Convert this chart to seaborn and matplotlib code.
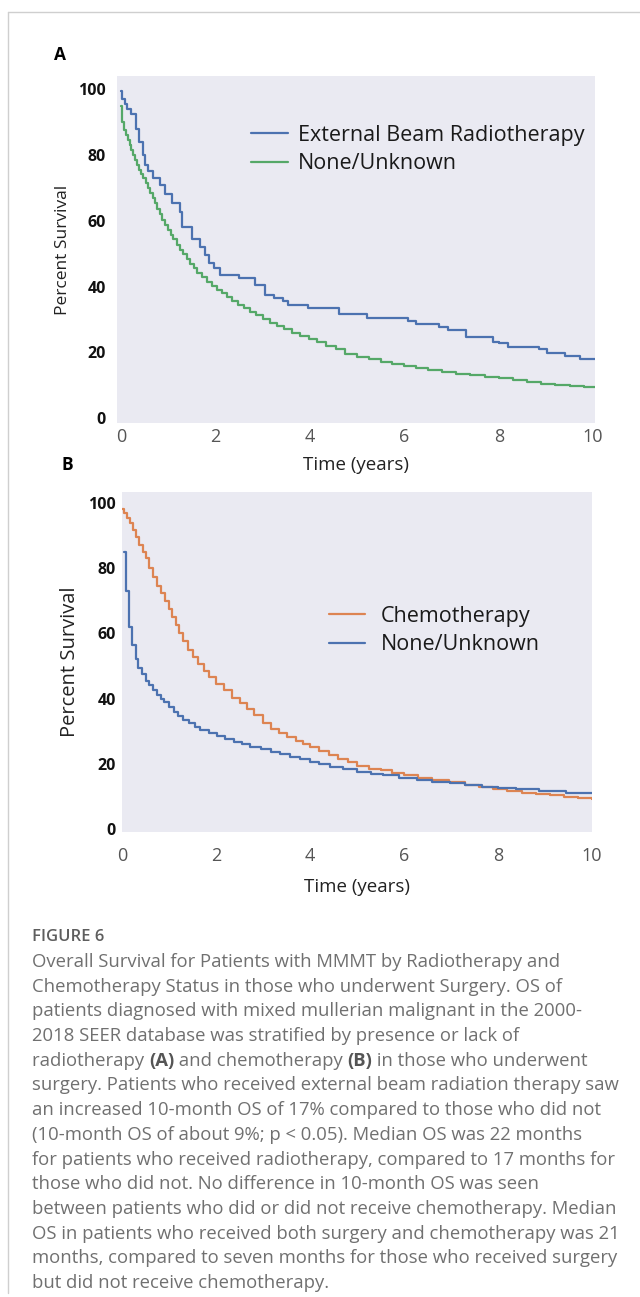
import matplotlib
matplotlib.use("Agg")
import matplotlib.pyplot as plt
from matplotlib.lines import Line2D
import pandas as pd
import seaborn as sns

# ---------------- data ----------------
a_groups = ["External Beam Radiotherapy", "None/Unknown"]
a_ebrt_time = [0.00, 0.02, 0.08, 0.13, 0.22, 0.32, 0.38, 0.46, 0.51, 0.57, 0.68, 0.83, 0.93,
               1.07, 1.25, 1.29, 1.51, 1.67, 1.77, 1.86, 1.98, 2.10, 2.50, 2.83, 3.04, 3.25,
               3.43, 3.54, 3.96, 4.62, 5.21, 6.08, 6.25, 6.74, 6.93, 7.30, 7.87, 8.00, 8.20,
               8.86, 9.03, 9.40, 9.72, 10.05]
a_ebrt_surv = [99.5, 97.0, 95.5, 94.0, 92.5, 88.0, 84.0, 80.0, 77.0, 75.0, 73.0, 71.0, 68.0,
               65.3, 62.5, 58.2, 54.5, 52.0, 49.5, 47.0, 45.5, 43.5, 42.5, 40.5, 37.5, 36.5,
               35.5, 34.5, 33.5, 31.6, 30.4, 29.6, 28.6, 27.6, 26.7, 24.7, 23.2, 22.7, 21.7,
               21.0, 19.8, 18.8, 18.0, 18.0]
a_none_time = [0.00, 0.03, 0.06, 0.10, 0.14, 0.18, 0.22, 0.26, 0.30, 0.34, 0.38, 0.42, 0.47,
               0.52, 0.57, 0.62, 0.67, 0.72, 0.77, 0.82, 0.87, 0.93, 0.99, 1.05, 1.11, 1.18,
               1.25, 1.32, 1.39, 1.46, 1.54, 1.62, 1.72, 1.82, 1.92, 2.03, 2.13, 2.24, 2.36,
               2.48, 2.60, 2.73, 2.86, 3.00, 3.15, 3.30, 3.45, 3.62, 3.80, 3.98, 4.15, 4.35,
               4.55, 4.75, 5.00, 5.25, 5.50, 5.75, 6.00, 6.25, 6.50, 6.80, 7.10, 7.40, 7.70,
               8.00, 8.30, 8.60, 8.90, 9.20, 9.50, 9.80, 10.05]
a_none_surv = [94.8, 90.0, 87.5, 86.0, 84.5, 83.0, 81.5, 80.0, 78.5, 77.0, 75.5, 74.2, 73.0,
               71.5, 70.0, 68.5, 67.0, 65.5, 63.5, 62.0, 60.3, 58.7, 57.2, 55.8, 54.3, 52.5,
               51.0, 49.8, 48.3, 46.8, 45.5, 44.0, 42.8, 41.4, 40.2, 39.0, 37.9, 36.9, 35.6,
               34.5, 33.4, 32.3, 31.2, 30.0, 29.0, 28.0, 27.0, 26.0, 25.0, 24.0, 23.0, 22.0,
               21.0, 19.4, 18.7, 18.0, 17.1, 16.4, 15.8, 15.2, 14.6, 14.0, 13.5, 13.0, 12.5,
               12.1, 11.6, 11.0, 10.5, 10.1, 9.7, 9.4, 9.4]

b_groups = ["Chemotherapy", "None/Unknown"]
b_chemo_time = [0.00, 0.05, 0.10, 0.16, 0.23, 0.30, 0.37, 0.44, 0.51, 0.58, 0.65, 0.75, 0.83,
                0.92, 1.00, 1.07, 1.15, 1.22, 1.30, 1.40, 1.50, 1.62, 1.74, 1.86, 2.00, 2.17,
                2.35, 2.50, 2.65, 2.80, 3.00, 3.17, 3.34, 3.51, 3.70, 3.85, 4.00, 4.20, 4.40,
                4.60, 4.80, 5.00, 5.25, 5.50, 5.75, 6.00, 6.30, 6.60, 6.95, 7.30, 7.60, 7.90,
                8.20, 8.50, 8.80, 9.10, 9.40, 9.70, 10.00]
b_chemo_surv = [98.0, 96.8, 95.3, 93.7, 91.6, 89.6, 87.0, 85.0, 83.0, 80.0, 77.3, 74.5, 72.3,
                70.0, 67.5, 65.0, 62.5, 60.0, 57.5, 55.0, 52.8, 50.5, 48.5, 46.5, 44.5, 42.5,
                40.2, 38.5, 36.8, 35.0, 32.5, 30.8, 29.5, 28.3, 27.0, 26.0, 25.0, 24.0, 22.8,
                21.5, 20.5, 19.4, 18.5, 18.0, 17.2, 16.5, 15.8, 15.0, 14.3, 13.6, 13.0, 12.4,
                11.8, 11.2, 10.8, 10.3, 9.9, 9.4, 9.2]
b_none_time = [0.04, 0.08, 0.14, 0.21, 0.29, 0.35, 0.42, 0.50, 0.58, 0.66, 0.74, 0.82, 0.90,
               1.00, 1.10, 1.20, 1.30, 1.42, 1.55, 1.67, 1.85, 2.03, 2.20, 2.38, 2.55, 2.73,
               2.95, 3.16, 3.37, 3.58, 3.79, 4.00, 4.20, 4.43, 4.70, 5.00, 5.30, 5.55, 5.90,
               6.27, 6.60, 6.97, 7.30, 7.67, 8.00, 8.39, 8.88, 9.45, 10.00]
b_none_surv = [85.0, 73.0, 62.0, 56.5, 52.0, 49.5, 47.5, 45.5, 44.0, 42.5, 41.2, 40.0, 38.8,
               37.5, 36.0, 34.5, 33.5, 32.4, 31.3, 30.3, 29.3, 28.4, 27.5, 26.8, 26.0, 25.2,
               24.4, 23.7, 22.9, 22.2, 21.4, 20.6, 19.8, 19.1, 18.3, 17.6, 16.9, 16.5, 15.8,
               15.0, 14.5, 14.0, 13.5, 13.0, 12.6, 12.2, 11.7, 11.1, 11.1]

x_ticks = [0, 2, 4, 6, 8, 10]
y_ticks = [0, 20, 40, 60, 80, 100]

caption_title = "FIGURE 6"
caption_lines = [
    [("Overall Survival for Patients with MMMT by Radiotherapy and", "normal")],
    [("Chemotherapy Status in those who underwent Surgery. OS of", "normal")],
    [("patients diagnosed with mixed mullerian malignant in the 2000-", "normal")],
    [("2018 SEER database was stratified by presence or lack of", "normal")],
    [("radiotherapy ", "normal"), ("(A)", "bold"), (" and chemotherapy ", "normal"),
     ("(B)", "bold"), (" in those who underwent", "normal")],
    [("surgery. Patients who received external beam radiation therapy saw", "normal")],
    [("an increased 10-month OS of 17% compared to those who did not", "normal")],
    [("(10-month OS of about 9%; p < 0.05). Median OS was 22 months", "normal")],
    [("for patients who received radiotherapy, compared to 17 months for", "normal")],
    [("those who did not. No difference in 10-month OS was seen", "normal")],
    [("between patients who did or did not receive chemotherapy. Median", "normal")],
    [("OS in patients who received both surgery and chemotherapy was 21", "normal")],
    [("months, compared to seven months for those who received surgery", "normal")],
    [("but did not receive chemotherapy.", "normal")],
]

# ---------------- style ----------------
sns.set_theme(style="dark")
plt.rcParams["font.family"] = ["Open Sans", "DejaVu Sans"]

BLUE, GREEN, ORANGE = "#4c72b0", "#55a868", "#dd8452"
W, H = 640, 1297
fig = plt.figure(figsize=(W / 100, H / 100), dpi=100)
fig.patch.set_facecolor("white")


def rect(l, t, r, b):
    return [l / W, 1 - b / H, (r - l) / W, (b - t) / H]


def fx(x):
    return x / W


def fy(y):
    return 1 - y / H


axA = fig.add_axes(rect(117, 76, 595, 423))
axB = fig.add_axes(rect(122, 492, 592, 832))

dfA = pd.DataFrame({
    "time": a_ebrt_time + a_none_time,
    "survival": a_ebrt_surv + a_none_surv,
    "group": [a_groups[0]] * len(a_ebrt_time) + [a_groups[1]] * len(a_none_time),
})
dfB = pd.DataFrame({
    "time": b_chemo_time + b_none_time,
    "survival": b_chemo_surv + b_none_surv,
    "group": [b_groups[0]] * len(b_chemo_time) + [b_groups[1]] * len(b_none_time),
})

sns.lineplot(data=dfA, x="time", y="survival", hue="group", hue_order=a_groups,
             palette=[BLUE, GREEN], drawstyle="steps-post", estimator=None,
             linewidth=1.6, ax=axA)
sns.lineplot(data=dfB, x="time", y="survival", hue="group", hue_order=b_groups,
             palette=[ORANGE, BLUE], drawstyle="steps-post", estimator=None,
             linewidth=1.6, ax=axB)

sns.move_legend(axA, "center left", bbox_to_anchor=(fx(240), fy(149.5)),
                bbox_transform=fig.transFigure, frameon=False, title=None,
                fontsize=15.5, handlelength=1.75, handletextpad=0.45,
                borderpad=0, labelspacing=0.37)
sns.move_legend(axB, "center left", bbox_to_anchor=(fx(318), fy(630.5)),
                bbox_transform=fig.transFigure, frameon=False, title=None,
                fontsize=15.5, handlelength=1.7, handletextpad=0.7,
                borderpad=0, labelspacing=0.37)
for ax in (axA, axB):
    leg = ax.get_legend()
    for h in leg.legend_handles:
        h.set_linewidth(1.6)
    for t in leg.get_texts():
        t.set_color("#1a1a1a")

axA.set_xlim(-0.085, 10.04)
axA.set_ylim(-1.5, 104)
axB.set_xlim(0, 10.0)
axB.set_ylim(-0.9, 103.3)

for ax, xpad, ypad, ylab_size, ylx, xly in ((axA, 3.5, 8, 12.5, 71, 456),
                                             (axB, 10.5, 4.5, 14.5, 80, 878)):
    ax.set_xticks(x_ticks)
    ax.set_yticks(y_ticks)
    ax.tick_params(axis="x", length=0, pad=xpad, labelsize=13, labelcolor="#555555")
    ax.tick_params(axis="y", length=0, pad=ypad, labelsize=11.5, labelcolor="#111111")
    for lbl in ax.get_yticklabels():
        lbl.set_fontweight("bold")
    ax.set_ylabel("Percent Survival", fontsize=ylab_size, color="#222222")
    ax.set_xlabel("Time (years)", fontsize=13.5, color="#222222")
    ax.yaxis.set_label_coords(fx(ylx), 0.5)
    ax.yaxis.label.set_transform(
        matplotlib.transforms.blended_transform_factory(fig.transFigure, ax.transAxes))
    ax.xaxis.set_label_coords(0.5, fy(xly))
    ax.xaxis.label.set_transform(
        matplotlib.transforms.blended_transform_factory(ax.transAxes, fig.transFigure))
    for s in ax.spines.values():
        s.set_visible(False)

fig.text(fx(60), fy(55), "A", fontsize=12.5, fontweight="bold", ha="center", va="center",
         color="black")
fig.text(fx(67), fy(465), "B", fontsize=12.5, fontweight="bold", ha="center", va="center",
         color="black")

# frame lines of the page
fig.add_artist(Line2D([fx(8), 1], [fy(12), fy(12)], transform=fig.transFigure,
                      color="#cfcfcf", lw=1.0))
fig.add_artist(Line2D([fx(8), fx(8)], [fy(12), fy(1293)], transform=fig.transFigure,
                      color="#cfcfcf", lw=1.0))

# ---------------- caption ----------------
renderer = fig.canvas.get_renderer()
cap_family = ["Open Sans", "DejaVu Sans"]
probe = fig.text(0, 0, caption_lines[5][0][0], fontsize=12, family=cap_family)
pw = probe.get_window_extent(renderer).width
probe.remove()
cap_size = 12 * 582 / pw

fig.text(fx(32), fy(937), caption_title, fontsize=cap_size * 0.9, color="#5e5e5e",
         family=cap_family, fontweight="semibold", ha="left", va="center")

y0, dy = 962, 24.7
for i, runs in enumerate(caption_lines):
    x = 32
    for txt, wt in runs:
        t = fig.text(fx(x), fy(y0 + i * dy), txt, fontsize=cap_size,
                     family=cap_family, fontweight=("bold" if wt == "bold" else "normal"),
                     color=("#555555" if wt == "bold" else "#707070"),
                     ha="left", va="center")
        x += t.get_window_extent(renderer).width

fig.savefig("out.png", dpi=100, facecolor="white")
